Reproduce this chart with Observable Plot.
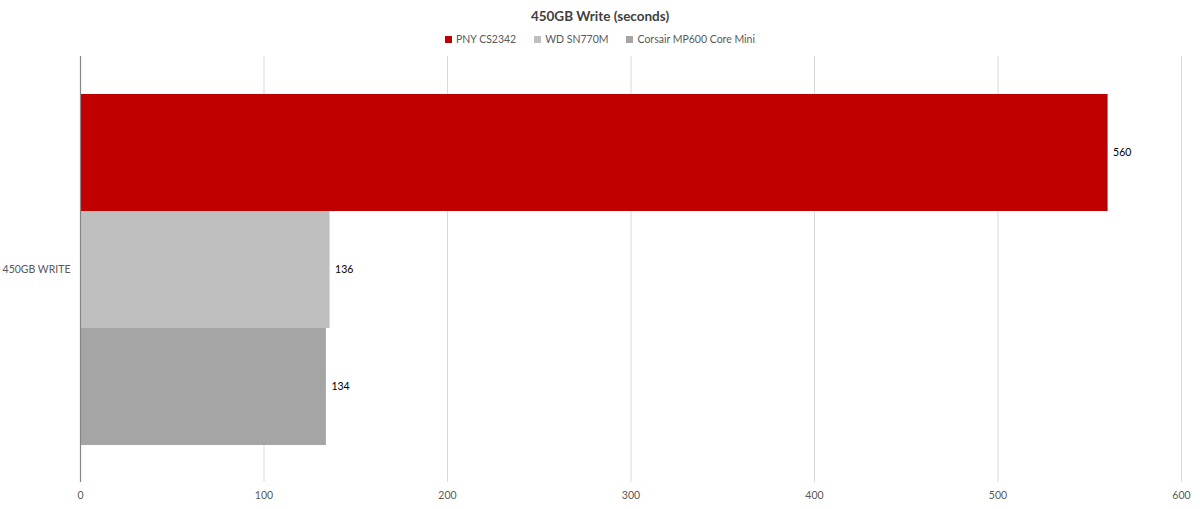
<!DOCTYPE html>
<html>
<head>
<meta charset="utf-8">
<script src="https://cdn.jsdelivr.net/npm/d3@7"></script>
<script src="https://cdn.jsdelivr.net/npm/@observablehq/plot@0.6"></script>
<style>
  body { margin: 0; background: #fff; font-family: Lato, "Open Sans", sans-serif; }
  #title { height: 28px; line-height: 32px; text-align: center; font-weight: bold; font-size: 13.5px; color: #404040; }
  #legend { height: 22px; line-height: 22px; text-align: center; font-size: 10.5px; color: #595959; }
  #legend span.item { margin: 0 9px; }
  #legend span.sw { display: inline-block; width: 7px; height: 7px; margin-right: 4px; vertical-align: 0px; }
  #chart svg { display: block; }
</style>
</head>
<body>
<div id="title">450GB Write (seconds)</div>
<div id="legend"></div>
<div id="chart"></div>
<script>
const categories = ["450GB WRITE"];
const series = ["PNY CS2342", "WD SN770M", "Corsair MP600 Core Mini"];
const values = [560, 136, 134];
const colors = ["#c00000", "#bfbfbf", "#a5a5a5"];
const xTicks = [0, 100, 200, 300, 400, 500, 600];

const data = series.map((s, i) => ({category: categories[0], series: s, value: values[i]}));

const legend = document.getElementById("legend");
series.forEach((s, i) => {
  const item = document.createElement("span");
  item.className = "item";
  item.innerHTML = `<span class="sw" style="background:${colors[i]}"></span>${s}`;
  legend.appendChild(item);
});

const chart = Plot.plot({
  width: 1200,
  height: 459,
  marginTop: 6,
  marginBottom: 27,
  marginLeft: 80,
  marginRight: 19,
  style: {fontFamily: "Lato, 'Open Sans', sans-serif", fontSize: "10.5px", color: "#595959"},
  x: {domain: [0, 600], ticks: xTicks},
  y: {domain: series, paddingInner: 0, paddingOuter: 0.32, axis: null},
  color: {domain: series, range: colors},
  marks: [
    Plot.gridX(xTicks.filter(d => d > 0), {stroke: "#d9d9d9", strokeOpacity: 1}),
    Plot.axisX(xTicks, {tickSize: 0, tickPadding: 9, label: null, fill: "#595959", fontSize: 10.5}),
    Plot.barX(data, {y: "series", x: "value", fill: "series"}),
    Plot.text(data, {y: "series", x: "value", text: d => String(d.value), dx: 5, textAnchor: "start", fill: "#000", fontSize: 10.5}),
    Plot.text(categories, {frameAnchor: "left", text: d => d, dx: -10, textAnchor: "end", fill: "#595959", fontSize: 10.5}),
    Plot.ruleX([0], {stroke: "#868686", strokeWidth: 1.2})
  ]
});
document.getElementById("chart").appendChild(chart);
</script>
</body>
</html>
